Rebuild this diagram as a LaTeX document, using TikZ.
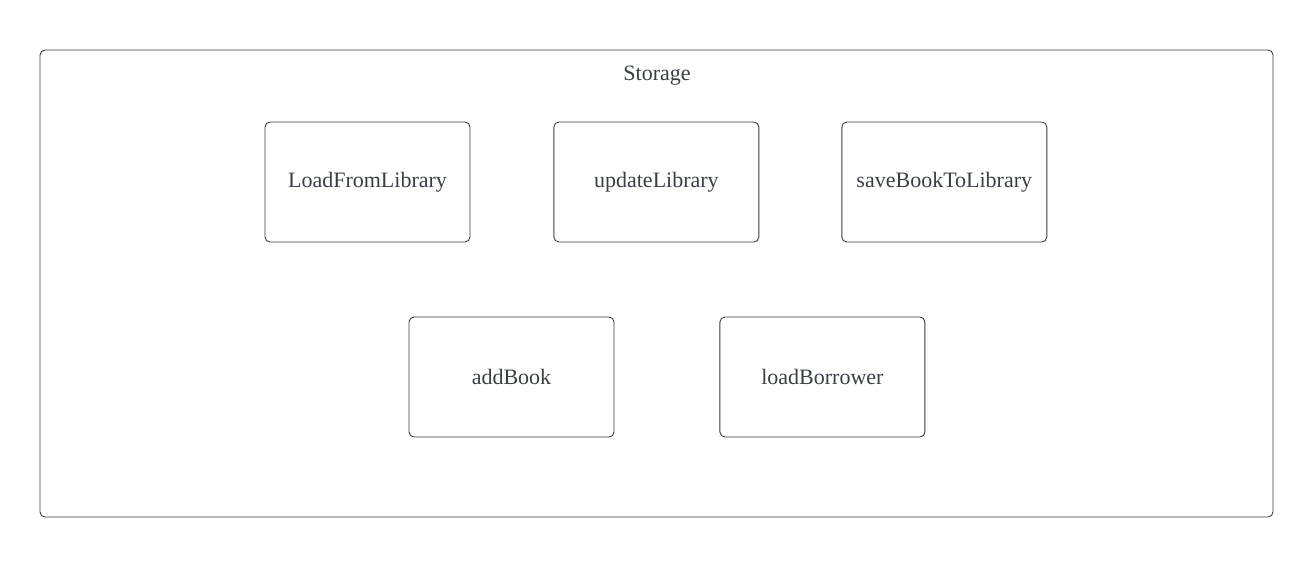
\documentclass[tikz,border=0pt]{standalone}
\usepackage{fontspec}
\setmainfont{Liberation Serif}
\usepackage{tikz}
\usetikzlibrary{positioning}
\definecolor{inkgray}{HTML}{3A3F47}
\definecolor{linegray}{HTML}{3C3C3C}
\tikzset{
	funcbox/.style={draw=linegray, line width=0.9pt, rounded corners=5pt,
		minimum width=205pt, minimum height=120pt, inner sep=0pt,
		text=inkgray, font=\fontsize{22}{26}\selectfont},
	framebox/.style={draw=linegray, line width=0.9pt, rounded corners=5pt}
}
\begin{document}
\begin{tikzpicture}[x=1pt,y=-1pt]
	\useasboundingbox (0,0) rectangle (1313,565);
	%%%%%%%%%%%%%%% frame
	\draw[framebox] (40,50) rectangle (1273,517);
	\node[text=inkgray, font=\fontsize{22}{26}\selectfont] (storage) at (657,76) {Storage};
	%%%%%%%%%%%%%%% first row
	\node[funcbox] (load) at (367.5,182) {LoadFromLibrary};
	\node[funcbox, right=83pt of load] (update) {updateLibrary};
	\node[funcbox, right=82pt of update] (save) {saveBookToLibrary};
	%%%%%%%%%%%%%%% second row
	\node[funcbox] (add) at (511.5,377) {addBook};
	\node[funcbox, right=105pt of add] (borrower) {loadBorrower};
\end{tikzpicture}
\end{document}
